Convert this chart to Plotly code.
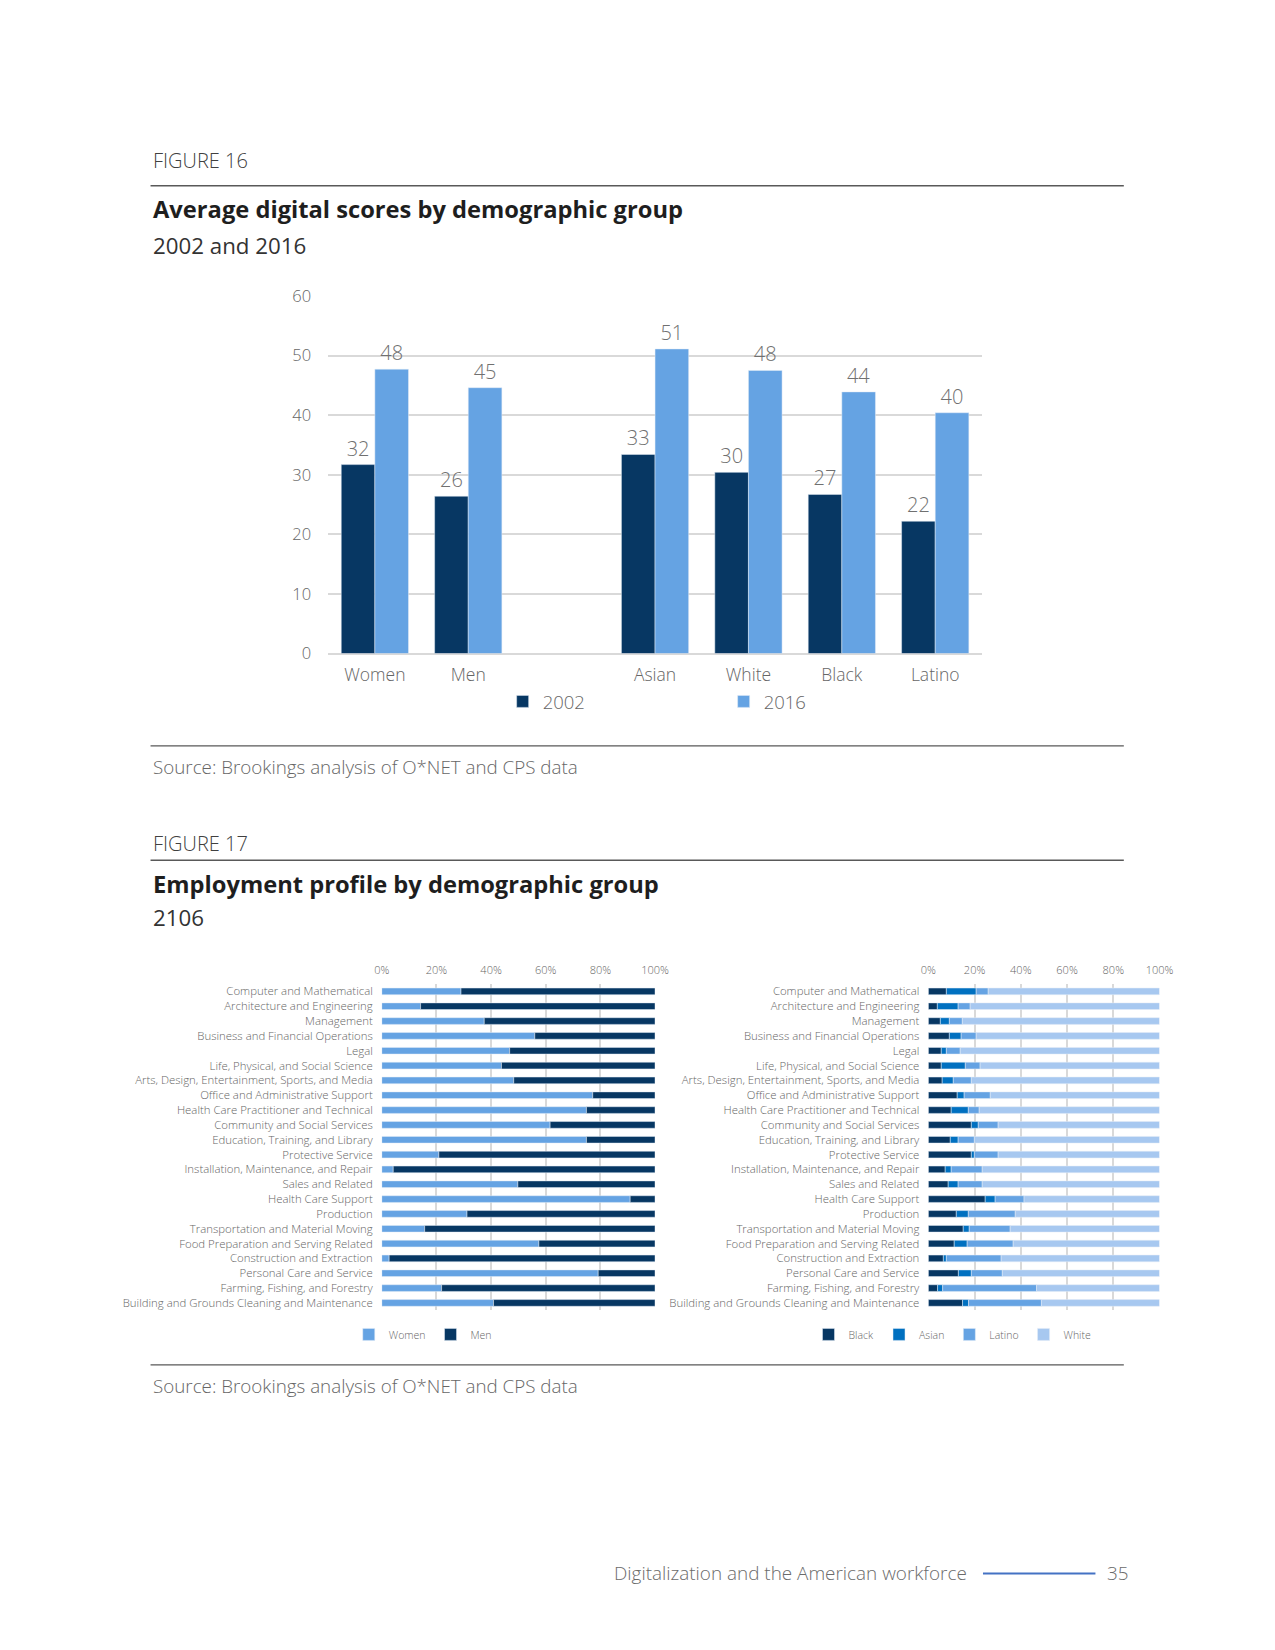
import numpy as np
import plotly.graph_objects as go

W, H = 1275, 1650

# layout positions are given in reference-view units and mapped to figure pixels
def SX(p):
    return (p - 15) / 0.935


def SY(p):
    return (p - 16) / 0.94


def px(p):
    return SX(p) / W


def py(p):
    return 1 - SY(p) / H


# ---------------- Figure 16 data ----------------
groups16 = ["Women", "Men", " ", "Asian", "White", "Black", "Latino"]
scores_2002 = [31.7, 26.4, None, 33.4, 30.4, 26.7, 22.2]
scores_2016 = [47.7, 44.6, None, 51.1, 47.5, 43.9, 40.4]

# ---------------- Figure 17 data ----------------
occupations = [
    "Computer and Mathematical",
    "Architecture and Engineering",
    "Management",
    "Business and Financial Operations",
    "Legal",
    "Life, Physical, and Social Science",
    "Arts, Design, Entertainment, Sports, and Media",
    "Office and Administrative Support",
    "Health Care Practitioner and Technical",
    "Community and Social Services",
    "Education, Training, and Library",
    "Protective Service",
    "Installation, Maintenance, and Repair",
    "Sales and Related",
    "Health Care Support",
    "Production",
    "Transportation and Material Moving",
    "Food Preparation and Serving Related",
    "Construction and Extraction",
    "Personal Care and Service",
    "Farming, Fishing, and Forestry",
    "Building and Grounds Cleaning and Maintenance",
]
women_share = [29.0, 14.2, 37.5, 56.0, 46.8, 43.8, 48.3, 77.2, 74.9, 61.6, 74.9,
               20.9, 4.2, 49.8, 90.9, 31.2, 15.7, 57.5, 2.7, 79.2, 21.9, 40.9]
men_share = [71.0, 85.8, 62.5, 44.0, 53.2, 56.2, 51.7, 22.8, 25.1, 38.4, 25.1,
             79.1, 95.8, 50.2, 9.1, 68.8, 84.3, 42.5, 97.3, 20.8, 78.1, 59.1]

black_share = [7.8, 3.9, 5.2, 9.1, 5.6, 5.6, 6.0, 12.5, 9.9, 18.6, 9.5,
               18.6, 7.3, 8.6, 24.6, 12.1, 15.1, 11.2, 6.5, 13.0, 4.0, 14.8]
asian_share = [12.9, 9.0, 3.9, 5.1, 2.2, 10.4, 4.8, 3.0, 7.4, 3.0, 3.4,
               1.3, 2.6, 4.3, 4.3, 5.2, 2.6, 5.6, 1.3, 5.6, 2.2, 2.6]
latino_share = [5.2, 5.2, 5.6, 6.5, 6.0, 6.4, 7.8, 11.3, 4.7, 8.6, 7.0,
                10.3, 13.4, 10.4, 12.5, 20.3, 17.7, 19.9, 23.7, 13.4, 40.6, 31.5]
white_share = [74.1, 81.9, 85.3, 79.3, 86.2, 77.6, 81.4, 73.2, 78.0, 69.8, 80.1,
               69.8, 76.7, 76.7, 58.6, 62.4, 64.6, 63.3, 68.5, 68.0, 53.2, 51.1]

pct_ticks = [0, 20, 40, 60, 80, 100]

# ---------------- styles ----------------
NAVY = "#073763"
LIGHT = "#65A3E3"
MID = "#0070C0"
PALE = "#A7C8F0"
GRID = "#D9D9D9"
TXT = "#666666"
FONT = "Open Sans"
LIGHTW = 300

fig = go.Figure()

# ---- Figure 16 bars ----
for nm, vals, col, off in [("2002", scores_2002, NAVY, -0.36), ("2016", scores_2016, LIGHT, 0.0)]:
    fig.add_trace(go.Bar(
        x=groups16, y=vals, name=nm, marker_color=col,
        width=0.36, offset=off, xaxis="x", yaxis="y",
        texttemplate="%{y:.0f}", textposition="outside",
        textfont=dict(color="#707070", size=20, family=FONT, weight=LIGHTW), cliponaxis=False,
        legend="legend",
    ))

# ---- Figure 17 left: gender ----
w = np.array(women_share)
m = np.array(men_share)
fig.add_trace(go.Bar(
    y=occupations, x=w, base=np.zeros(len(w)), orientation="h", name="Women",
    marker_color=LIGHT, width=0.45, xaxis="x2", yaxis="y2", legend="legend2",
))
fig.add_trace(go.Bar(
    y=occupations, x=m, base=w, orientation="h", name="Men",
    marker_color=NAVY, width=0.45, xaxis="x2", yaxis="y2", legend="legend2",
))

# ---- Figure 17 right: race ----
race_series = [("Black", black_share, NAVY), ("Asian", asian_share, MID),
               ("Latino", latino_share, LIGHT), ("White", white_share, PALE)]
cum = np.zeros(len(occupations))
for nm, vals, col in race_series:
    vals = np.array(vals)
    fig.add_trace(go.Bar(
        y=occupations, x=vals, base=cum.copy(), orientation="h", name=nm,
        marker_color=col, width=0.45, xaxis="x3", yaxis="y3", legend="legend3",
    ))
    cum = cum + vals

# ---------------- axes ----------------
row_first, row_last = 942, 1239
row_step = (row_last - row_first) / 21
bt_top, bt_bot = row_first - row_step / 2, row_last + row_step / 2

tick_pct = dict(size=11, color=TXT, family=FONT, weight=LIGHTW)
tick_cat = dict(size=11.4, color=TXT, family=FONT, weight=LIGHTW)
fig.update_layout(
    width=W, height=H, autosize=False,
    margin=dict(l=0, r=0, t=0, b=0),
    paper_bgcolor="white", plot_bgcolor="white",
    barmode="overlay",
    font=dict(family=FONT, color=TXT),
    xaxis=dict(
        domain=[px(312), px(934)], anchor="y", type="category",
        categoryorder="array", categoryarray=groups16,
        showgrid=False, showline=False, zeroline=False, ticks="",
        tickfont=dict(size=17.5, color=TXT, family=FONT, weight=LIGHTW), ticklabelstandoff=9,
    ),
    yaxis=dict(
        domain=[py(620), py(279)], anchor="x", range=[0, 60], dtick=10,
        showgrid=True, gridcolor=GRID, gridwidth=2, zeroline=True,
        zerolinecolor=GRID, zerolinewidth=2, showline=False, ticks="",
        tickfont=dict(size=16.5, color=TXT, family=FONT, weight=LIGHTW), ticklabelstandoff=16,
    ),
    xaxis2=dict(
        domain=[px(363), px(623)], anchor="y2", side="top", range=[0, 100],
        tickvals=pct_ticks, ticktext=[f"{t}%" for t in pct_ticks],
        showgrid=True, gridcolor=GRID, gridwidth=1.5, zeroline=False,
        showline=False, ticks="", tickfont=tick_pct, ticklabelstandoff=7,
    ),
    yaxis2=dict(
        domain=[py(bt_bot), py(bt_top)], anchor="x2", type="category",
        categoryorder="array", categoryarray=occupations, autorange="reversed",
        showgrid=False, zeroline=False, showline=False, ticks="",
        tickfont=tick_cat, ticklabelstandoff=8,
    ),
    xaxis3=dict(
        domain=[px(883), px(1103)], anchor="y3", side="top", range=[0, 100],
        tickvals=pct_ticks, ticktext=[f"{t}%" for t in pct_ticks],
        showgrid=True, gridcolor=GRID, gridwidth=1.5, zeroline=False,
        showline=False, ticks="", tickfont=tick_pct, ticklabelstandoff=7,
    ),
    yaxis3=dict(
        domain=[py(bt_bot), py(bt_top)], anchor="x3", type="category",
        categoryorder="array", categoryarray=occupations, autorange="reversed",
        showgrid=False, zeroline=False, showline=False, ticks="",
        tickfont=tick_cat, ticklabelstandoff=8,
    ),
    legend=dict(
        orientation="h", x=px(478), y=py(666), xanchor="left", yanchor="middle",
        entrywidth=176, entrywidthmode="pixels", itemwidth=30,
        font=dict(size=18.5, color=TXT, family=FONT, weight=LIGHTW),
        bgcolor="rgba(0,0,0,0)", traceorder="normal",
    ),
    legend2=dict(
        orientation="h", x=px(402), y=py(1269), xanchor="center", yanchor="middle",
        itemwidth=30, font=dict(size=10.5, color=TXT, family=FONT, weight=LIGHTW),
        bgcolor="rgba(0,0,0,0)", traceorder="normal",
    ),
    legend3=dict(
        orientation="h", x=px(906), y=py(1269), xanchor="center", yanchor="middle",
        itemwidth=30, font=dict(size=10.5, color=TXT, family=FONT, weight=LIGHTW),
        bgcolor="rgba(0,0,0,0)", traceorder="normal",
    ),
    showlegend=True,
)

# ---------------- page text & rules ----------------
DARK = "#1e1e1e"
RULE = "#595959"
ann = []


def text(x, y, s, size, color=TXT, weight=400, xanchor="left"):
    ann.append(dict(
        x=px(x), y=py(y), xref="paper", yref="paper", text=s, showarrow=False,
        xanchor=xanchor, yanchor="middle",
        font=dict(size=size, color=color, family=FONT, weight=weight),
    ))


text(143, 150, "FIGURE 16", 20, "#404040", LIGHTW)
text(143, 196, "Average digital scores by demographic group", 23.7, DARK, 700)
text(143, 231, "2002 and 2016", 22.3, "#333333")
text(143, 728, "Source: Brookings analysis of O*NET and CPS data", 18.8, TXT, LIGHTW)
text(143, 801, "FIGURE 17", 20, "#404040", LIGHTW)
text(143, 840, "Employment profile by demographic group", 23.7, DARK, 700)
text(143, 872, "2106", 22.3, "#333333")
text(143, 1318, "Source: Brookings analysis of O*NET and CPS data", 18.8, TXT, LIGHTW)
text(922, 1496, "Digitalization and the American workforce", 18.9, "#6b6b6b", LIGHTW, "right")
text(1076, 1496, "35", 18.9, "#6b6b6b", LIGHTW, "right")

shapes = []
for yy in [174, 708, 817, 1298]:
    shapes.append(dict(type="line", xref="paper", yref="paper",
                       x0=px(143), x1=px(1069), y0=py(yy), y1=py(yy),
                       line=dict(color=RULE, width=1.3)))
shapes.append(dict(type="line", xref="paper", yref="paper",
                   x0=px(935), x1=px(1042), y0=py(1497), y1=py(1497),
                   line=dict(color="#4472C4", width=2)))

fig.update_layout(annotations=ann, shapes=shapes)

fig.write_html("out.html")
